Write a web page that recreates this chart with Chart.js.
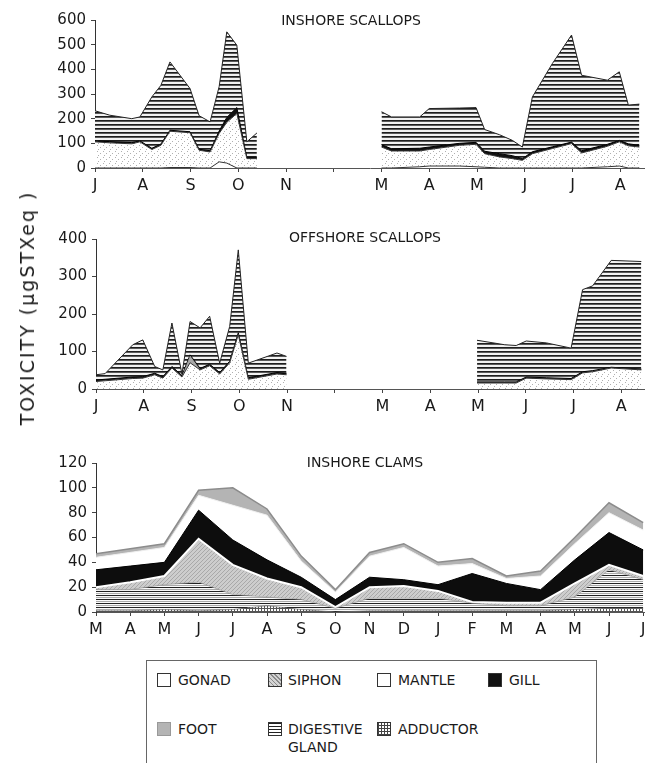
<!DOCTYPE html>
<html><head><meta charset="utf-8">
<script src="https://cdn.jsdelivr.net/npm/chart.js@4.4.0/dist/chart.umd.min.js"></script>
<style>
html,body{margin:0;padding:0;background:#fff;overflow:hidden;width:645px;height:763px;}
body{position:relative;font-family:"DejaVu Sans",sans-serif;color:#1a1a1a;}
canvas{position:absolute;left:0;}
.title{position:absolute;font-size:14px;transform:translate(-50%,-50%);white-space:nowrap;}
#ytitle{position:absolute;left:27px;top:308px;transform:translate(-50%,-50%) rotate(-90deg);font-size:19px;letter-spacing:2px;white-space:nowrap;}
#legend{position:absolute;left:146px;top:660px;width:449px;height:130px;border:1px solid #666;}
.sw{position:absolute;width:14px;height:14px;box-sizing:border-box;border:1px solid #333;}
.lt{position:absolute;font-size:14px;line-height:18px;white-space:nowrap;}
</style></head>
<body>
<canvas id="c1" width="700" height="200" style="top:0px"></canvas>
<canvas id="c2" width="700" height="202" style="top:219px"></canvas>
<canvas id="c3" width="700" height="201" style="top:443px"></canvas>
<div class="title" style="left:351px;top:20px">INSHORE SCALLOPS</div>
<div class="title" style="left:365px;top:237px">OFFSHORE SCALLOPS</div>
<div class="title" style="left:365px;top:462px">INSHORE CLAMS</div>
<div id="ytitle">TOXICITY (µgSTXeq )</div>
<div id="legend"></div>
<div class="sw" style="left:157px;top:673px;background:#fff"></div><div class="lt" style="left:178px;top:671px">GONAD</div>
<div class="sw" style="left:268px;top:673px;background:repeating-linear-gradient(45deg,#8a8a8a 0 1px,#d4d4d4 1px 3px)"></div><div class="lt" style="left:288px;top:671px">SIPHON</div>
<div class="sw" style="left:377px;top:673px;background:#fff"></div><div class="lt" style="left:398px;top:671px">MANTLE</div>
<div class="sw" style="left:488px;top:673px;background:#111"></div><div class="lt" style="left:509px;top:671px">GILL</div>
<div class="sw" style="left:157px;top:722px;background:#b4b4b4;border-color:#999"></div><div class="lt" style="left:178px;top:720px">FOOT</div>
<div class="sw" style="left:268px;top:722px;background:repeating-linear-gradient(180deg,#222 0 1px,#fff 1px 3px)"></div><div class="lt" style="left:288px;top:720px">DIGESTIVE<br>GLAND</div>
<div class="sw" style="left:377px;top:722px;background:repeating-linear-gradient(0deg,#444 0 1px,transparent 1px 3px),repeating-linear-gradient(90deg,#444 0 1px,#fff 1px 3px)"></div><div class="lt" style="left:398px;top:720px">ADDUCTOR</div>
<script>
// ---------- DATA ----------
// month tick labels
const scallopMonths = ['J','A','S','O','N','','M','A','M','J','J','A'];
const clamMonths = ['M','A','M','J','J','A','S','O','N','D','J','F','M','A','M','J','J'];

// Inshore scallops (x in months from July; two sampling periods)
const inS_x1 = [0,0.31,0.77,0.94,1.19,1.38,1.57,1.99,2.18,2.41,2.60,2.76,2.97,3.18,3.39];
const inS_gonad1 = [0,0,0,0,0,0,2,2,0,0,25,20,0,0,0];
const inS_mantle1 = [106,102,98,106,75,92,147,141,72,65,115,165,221,38,38];
const inS_gill1 = [4,5,5,4,5,5,4,4,4,5,10,20,24,4,4];
const inS_dig1 = [122,107,97,97,208,238,277,175,136,117,180,347,253,64,100];
const inS_x2 = [6.00,6.21,6.80,7.00,7.63,7.98,8.16,8.47,8.74,8.95,9.16,9.58,9.98,10.19,10.73,10.98,11.17,11.40];
const inS_gonad2 = [0,0,5,8,8,5,3,0,0,0,0,0,0,0,5,8,0,0];
const inS_mantle2 = [85,69,64,67,84,91,55,45,38,31,58,79,99,61,83,98,90,85];
const inS_gill2 = [10,9,11,10,8,8,10,13,12,7,8,7,6,9,8,6,8,7];
const inS_dig2 = [133,129,127,156,143,141,88,77,62,47,222,338,434,306,260,278,157,167];

// Offshore scallops
const offS_x1 = [0,0.19,0.77,0.98,1.23,1.40,1.59,1.80,1.97,2.18,2.38,2.59,2.80,2.98,3.19,3.79,3.99];
const offS_mantle1 = [20,22,28,29,38,29,56,32,70,51,62,40,70,145,26,40,38];
const offS_foot1 = [0,0,0,0,0,0,0,0,18,0,0,0,0,0,0,0,0];
const offS_gill1 = [4,4,4,4,4,4,4,4,3,4,4,4,4,5,4,4,4];
const offS_dig1 = [14,15,86,98,18,18,116,4,89,108,128,25,93,221,39,52,45];
const offS_x2 = [7.98,8.56,8.80,9.01,9.43,9.95,10.19,10.40,10.79,11.42];
const offS_mantle2 = [16,16,16,29,27,25,43,46,56,51];
const offS_foot2 = [0,0,0,0,0,0,0,0,0,0];
const offS_gill2 = [3,3,3,3,3,3,3,3,2,2];
const offS_dig2 = [111,99,97,96,93,81,219,226,285,287];

// Inshore clams (monthly, March to July of following year)
const clam_adductor = [1,1,2,1,2,5,2,0,1,1,1,1,1,1,2,3,3];
const clam_digestive = [17,17,20,23,12,7,8,3,10,10,10,6,4,4,10,31,23];
const clam_siphon = [2,6,7,35,24,15,10,1,9,10,6,1,2.5,2.5,11,4,3];
const clam_gill = [14,13,11,23,20,15,8,6,8,5,5,23,15.5,10.5,19,26,21];
const clam_mantle = [10,11,12,12,28,36,13,6,17,26,15,8,4,11,13,16,16];
const clam_foot = [3,3,3,4,14,5,4,2,3,3,3,4,2,4,5,8,6];

// ---------- PATTERNS ----------
function pat(w,h,draw){const c=document.createElement('canvas');c.width=w;c.height=h;const g=c.getContext('2d');draw(g);return g.createPattern(c,'repeat');}
const stripes = pat(4,4,g=>{g.fillStyle='#f2f2f2';g.fillRect(0,0,4,4);g.fillStyle='#1e1e1e';g.fillRect(0,0,4,1);g.fillStyle='#5a5a5a';g.fillRect(0,1,4,1);});
const clamStripes = pat(4,4,g=>{g.fillStyle='#fafafa';g.fillRect(0,0,4,4);g.fillStyle='#222';g.fillRect(0,0,4,1);g.fillStyle='#aaa';g.fillRect(0,2,4,1);});
const dots = pat(6,6,g=>{g.fillStyle='#fff';g.fillRect(0,0,6,6);g.fillStyle='#b0b0b0';g.fillRect(1,1,1,1);g.fillRect(4,3,1,1);g.fillRect(2,5,1,1);});
const hatch = pat(4,4,g=>{g.fillStyle='#cdcdcd';g.fillRect(0,0,4,4);g.fillStyle='#a9a9a9';for(let i=0;i<4;i++)g.fillRect(i,3-i,1,1);});
const grid = pat(3,3,g=>{g.fillStyle='#fff';g.fillRect(0,0,3,3);g.fillStyle='#555';g.fillRect(0,0,3,1);g.fillRect(0,0,1,3);});

// ---------- HELPERS ----------
function seg(xs1, v1, xs2, v2){
  const a = xs1.map((x,i)=>({x, y:v1[i]}));
  if(!xs2) return a;
  const gap = {x:(xs1[xs1.length-1]+xs2[0])/2, y:null};
  return a.concat([gap], xs2.map((x,i)=>({x, y:v2[i]})));
}
function ds(label,data,bg,bc,bw,first){
  return {label,data,backgroundColor:bg,borderColor:bc,borderWidth:bw,fill:first?'origin':'-1',pointRadius:0,tension:0,spanGaps:false};
}
const FONT = 'DejaVu Sans';
function makeChart(id, datasets, opt){
  return new Chart(document.getElementById(id), {
    type:'line',
    data:{datasets},
    options:{
      responsive:false, animation:false, events:[],
      layout:{padding:{top:20,right:700-opt.right,left:0,bottom:0}},
      plugins:{legend:{display:false},tooltip:{enabled:false}},
      scales:{
        x:{type:'linear',min:0,max:opt.xmax,
           afterBuildTicks:s=>{s.ticks=opt.labels.map((_,i)=>({value:i}));},
           afterFit:s=>{s.height=opt.xh;},
           ticks:{autoSkip:false,maxRotation:0,padding:4,color:'#1a1a1a',font:{family:FONT,size:16},callback:(v)=>opt.labels[Math.round(v)]},
           grid:{display:true,drawOnChartArea:false,drawTicks:true,tickLength:4,color:'#444'},
           border:{display:true,color:'#555',width:1}},
        y:{stacked:true,min:0,max:opt.ymax,
           afterBuildTicks:s=>{const t=[];for(let v=0;v<=opt.ymax;v+=opt.ystep)t.push({value:v});s.ticks=t;},
           afterFit:s=>{s.width=opt.left;},
           ticks:{padding:5,color:'#1a1a1a',font:{family:FONT,size:15}},
           grid:{display:true,drawOnChartArea:false,drawTicks:true,tickLength:4,color:'#444'},
           border:{display:true,color:'#333',width:1}}
      }
    }
  });
}

// ---------- CHARTS ----------
makeChart('c1',[
  ds('Gonad',seg(inS_x1,inS_gonad1,inS_x2,inS_gonad2),'#fff','#333',1,true),
  ds('Mantle',seg(inS_x1,inS_mantle1,inS_x2,inS_mantle2),dots,'#333',1,false),
  ds('Gill',seg(inS_x1,inS_gill1,inS_x2,inS_gill2),'#111','#000',1,false),
  ds('Digestive gland',seg(inS_x1,inS_dig1,inS_x2,inS_dig2),stripes,'#222',1,false)
],{right:645,xmax:(645-95)/47.75,labels:scallopMonths,xh:32,left:95,ymax:600,ystep:100});

makeChart('c2',[
  ds('Mantle',seg(offS_x1,offS_mantle1,offS_x2,offS_mantle2),dots,'#333',1,true),
  ds('Foot',seg(offS_x1,offS_foot1,offS_x2,offS_foot2),'#a8a8a8','#888',0.5,false),
  ds('Gill',seg(offS_x1,offS_gill1,offS_x2,offS_gill2),'#111','#000',1,false),
  ds('Digestive gland',seg(offS_x1,offS_dig1,offS_x2,offS_dig2),stripes,'#222',1,false)
],{right:645,xmax:(645-96)/47.75,labels:scallopMonths,xh:32,left:96,ymax:400,ystep:100});

const cx = clamMonths.map((_,i)=>i);
makeChart('c3',[
  ds('Adductor',seg(cx,clam_adductor),grid,'#444',0.5,true),
  ds('Digestive gland',seg(cx,clam_digestive),clamStripes,'#777',0.5,false),
  ds('Siphon',seg(cx,clam_siphon),hatch,'#fff',2,false),
  ds('Gill',seg(cx,clam_gill),'#0d0d0d','#000',1,false),
  ds('Mantle',seg(cx,clam_mantle),'#fff','#eee',1,false),
  ds('Foot',seg(cx,clam_foot),'#b4b4b4','#8c8c8c',1.5,false)
],{right:645,xmax:(645-96)/34.2,labels:clamMonths,xh:32,left:96,ymax:120,ystep:20});
</script>
</body></html>
